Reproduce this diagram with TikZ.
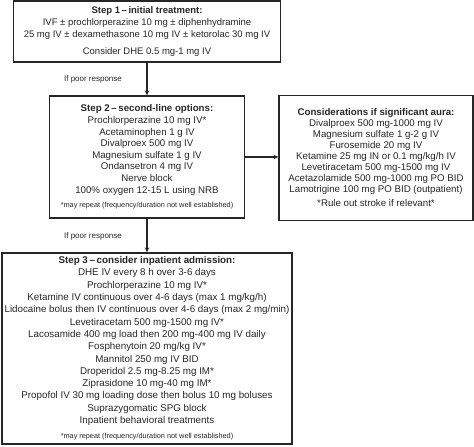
\documentclass[tikz,border=0pt]{standalone}
\usepackage{fontspec}
\setmainfont{Liberation Sans}
\usetikzlibrary{arrows.meta}
\newcommand\repeatnote{{\fontsize{7.3}{9}\selectfont *may repeat (frequency/duration not well established)}}
\begin{document}
\begin{tikzpicture}[x=1pt,y=-1pt,
    stepbox/.style ={draw=black!85, line width=1.3pt, inner sep=0pt, align=center,
                     text=black!85, font=\fontsize{9.7}{11.6}\selectfont},
    flow/.style ={draw=black!85, line width=1.1pt, -{Stealth[length=5pt,width=4.5pt]}},
    cue/.style ={text=black!85, font=\fontsize{8}{10}\selectfont}]
   \useasboundingbox (0,0) rectangle (474,447);
   \node[stepbox, font=\fontsize{9.5}{11.8}\selectfont, minimum width=267pt, minimum height=61pt] (s1) at (147,31.5)
     {\textbf{Step 1\,--\,initial treatment:}\\
      IVF ± prochlorperazine 10 mg ± diphenhydramine\\
      25 mg IV ± dexamethasone 10 mg IV ± ketorolac 30 mg IV\\[5pt]
      Consider DHE 0.5 mg-1 mg IV};
   \node[stepbox, minimum width=195pt, minimum height=122pt] (s2) at (147,157)
     {\textbf{Step 2\,--\,second-line options:}\\
      Prochlorperazine 10 mg IV*\\
      Acetaminophen 1 g IV\\
      Divalproex 500 mg IV\\
      Magnesium sulfate 1 g IV\\
      Ondansetron 4 mg IV\\
      Nerve block\\
      100\% oxygen 12-15 L using NRB\\[3pt]
      \repeatnote};
   \node[stepbox, font=\fontsize{9.7}{11}\selectfont, minimum width=194pt, minimum height=125pt] (aura) at (376,158)
     {\textbf{Considerations if significant aura:}\\
      Divalproex 500 mg-1000 mg IV\\
      Magnesium sulfate 1 g-2 g IV\\
      Furosemide 20 mg IV\\
      Ketamine 25 mg IN or 0.1 mg/kg/h IV\\
      Levetiracetam 500 mg-1500 mg IV\\
      Acetazolamide 500 mg-1000 mg PO BID\\
      Lamotrigine 100 mg PO BID (outpatient)\\[3pt]
      *Rule out stroke if relevant*};
   \node[stepbox, font=\fontsize{9.8}{12.3}\selectfont, minimum width=290pt, minimum height=191pt] (s3) at (147,348.5)
     {\textbf{Step 3\,--\,consider inpatient admission:}\\
      DHE IV every 8 h over 3-6 days\\
      Prochlorperazine 10 mg IV*\\
      Ketamine IV continuous over 4-6 days (max 1 mg/kg/h)\\
      Lidocaine bolus then IV continuous over 4-6 days (max 2 mg/min)\\
      Levetiracetam 500 mg-1500 mg IV*\\
      Lacosamide 400 mg load then 200 mg-400 mg IV daily\\
      Fosphenytoin 20 mg/kg IV*\\
      Mannitol 250 mg IV BID\\
      Droperidol 2.5 mg-8.25 mg IM*\\
      Ziprasidone 10 mg-40 mg IM*\\
      Propofol IV 30 mg loading dose then bolus 10 mg boluses\\
      Suprazygomatic SPG block\\
      Inpatient behavioral treatments\\[3pt]
      \repeatnote};
   \node[cue] (poor1) at (93,79) {If poor response};
   \node[cue] (poor2) at (93,236) {If poor response};
   \draw[flow] (s1) -- (s2);
   \draw[flow] (s2.east) -- (s2.east -| aura.west);
   \draw[flow] (s2) -- (s3);
\end{tikzpicture}
\end{document}
